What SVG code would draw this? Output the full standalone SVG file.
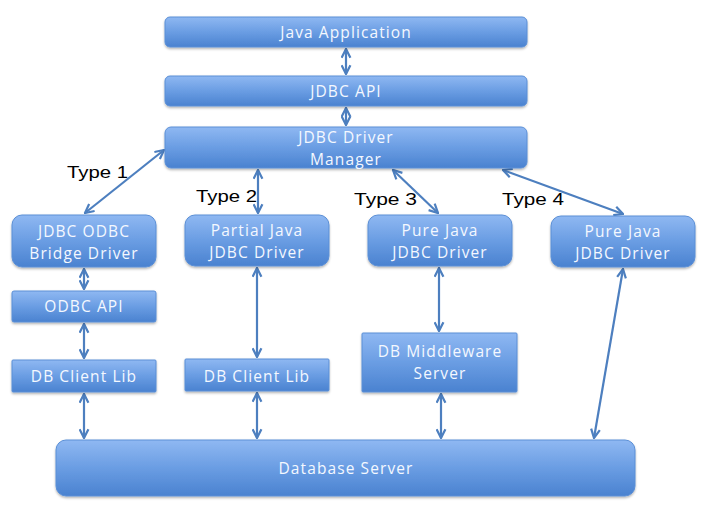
<svg xmlns="http://www.w3.org/2000/svg" width="703" height="505" viewBox="0 0 703 505">
<style>
.box{fill:url(#g);stroke:#5b8fd6;stroke-width:1}
.t{font-family:"Open Sans","DejaVu Sans",sans-serif;font-size:15.5px;letter-spacing:1.1px;fill:#f4f8ff;text-anchor:middle}
.lbl{font-family:"Liberation Sans",Arial,sans-serif;font-size:17px;fill:#000000}
.c{stroke:#4d7fbf;stroke-width:2.2;fill:none;marker-start:url(#a);marker-end:url(#a)}
</style>
<defs>
<linearGradient id="g" x1="0" y1="0" x2="0" y2="1">
<stop offset="0" stop-color="#8fb8f2"/>
<stop offset="0.5" stop-color="#6a9de3"/>
<stop offset="1" stop-color="#4a82d0"/>
</linearGradient>
<filter id="sh" x="-5%" y="-10%" width="110%" height="130%">
<feDropShadow dx="0" dy="1.5" stdDeviation="1.2" flood-color="#000" flood-opacity="0.3"/>
</filter>
<marker id="a" viewBox="0 0 10 10" refX="9" refY="5" markerWidth="5" markerHeight="5" orient="auto-start-reverse" markerUnits="strokeWidth">
<path d="M1,1 L9,5 L1,9" fill="none" stroke="#4d7fbf" stroke-width="2"/>
</marker>
</defs>
<rect width="703" height="505" fill="#ffffff"/>
<g id="connectors">
<line class="c" x1="346" y1="49" x2="346" y2="74"/>
<line class="c" x1="346" y1="108" x2="346" y2="125"/>
<line class="c" x1="164" y1="150" x2="85" y2="213"/>
<line class="c" x1="258" y1="170" x2="258" y2="213"/>
<line class="c" x1="393" y1="170" x2="438" y2="213"/>
<line class="c" x1="503" y1="170" x2="623" y2="214"/>
<line class="c" x1="84" y1="269" x2="84" y2="289"/>
<line class="c" x1="84" y1="324" x2="84" y2="358"/>
<line class="c" x1="257" y1="268" x2="257" y2="357"/>
<line class="c" x1="439" y1="268" x2="439" y2="331"/>
<line class="c" x1="84" y1="394" x2="84" y2="438"/>
<line class="c" x1="257" y1="393" x2="257" y2="438"/>
<line class="c" x1="441" y1="394" x2="441" y2="438"/>
<line class="c" x1="623" y1="269" x2="594" y2="438"/>
</g>
<g id="n-javaapp"><rect class="box" filter="url(#sh)" x="165" y="17" width="362" height="30" rx="5"/><text class="t" x="346" y="38">Java Application</text></g>
<g id="n-jdbcapi"><rect class="box" filter="url(#sh)" x="165" y="76" width="362" height="30" rx="5"/><text class="t" x="346" y="97">JDBC API</text></g>
<g id="n-manager"><rect class="box" filter="url(#sh)" x="165" y="127" width="362" height="41" rx="6"/><text class="t" x="346" y="143">JDBC Driver</text><text class="t" x="346" y="165">Manager</text></g>
<g id="n-bridge"><rect class="box" filter="url(#sh)" x="12" y="215" width="144" height="52" rx="10"/><text class="t" x="84" y="237">JDBC ODBC</text><text class="t" x="84" y="259">Bridge Driver</text></g>
<g id="n-odbcapi"><rect class="box" filter="url(#sh)" x="12" y="291" width="144" height="31" rx="2"/><text class="t" x="84" y="312">ODBC API</text></g>
<g id="n-dbclient1"><rect class="box" filter="url(#sh)" x="12" y="360" width="144" height="32" rx="1"/><text class="t" x="84" y="382">DB Client Lib</text></g>
<g id="n-partial"><rect class="box" filter="url(#sh)" x="185" y="215" width="144" height="51" rx="10"/><text class="t" x="257" y="236">Partial Java</text><text class="t" x="257" y="258">JDBC Driver</text></g>
<g id="n-dbclient2"><rect class="box" filter="url(#sh)" x="185" y="359" width="144" height="32" rx="1"/><text class="t" x="257" y="382">DB Client Lib</text></g>
<g id="n-pure3"><rect class="box" filter="url(#sh)" x="368" y="215" width="144" height="51" rx="10"/><text class="t" x="440" y="236">Pure Java</text><text class="t" x="440" y="258">JDBC Driver</text></g>
<g id="n-middleware"><rect class="box" filter="url(#sh)" x="362" y="333" width="155" height="59" rx="1"/><text class="t" x="440" y="357">DB Middleware</text><text class="t" x="440" y="379">Server</text></g>
<g id="n-pure4"><rect class="box" filter="url(#sh)" x="551" y="216" width="144" height="51" rx="10"/><text class="t" x="623" y="237">Pure Java</text><text class="t" x="623" y="259">JDBC Driver</text></g>
<g id="n-dbserver"><rect class="box" filter="url(#sh)" x="56" y="440" width="579" height="56" rx="10"/><text class="t" x="346" y="474">Database Server</text></g>
<g id="labels">
<text class="lbl" x="67" y="178" textLength="61" lengthAdjust="spacingAndGlyphs">Type 1</text>
<text class="lbl" x="196" y="202" textLength="61" lengthAdjust="spacingAndGlyphs">Type 2</text>
<text class="lbl" x="354" y="205" textLength="63" lengthAdjust="spacingAndGlyphs">Type 3</text>
<text class="lbl" x="502" y="205" textLength="62" lengthAdjust="spacingAndGlyphs">Type 4</text>
</g>
</svg>
